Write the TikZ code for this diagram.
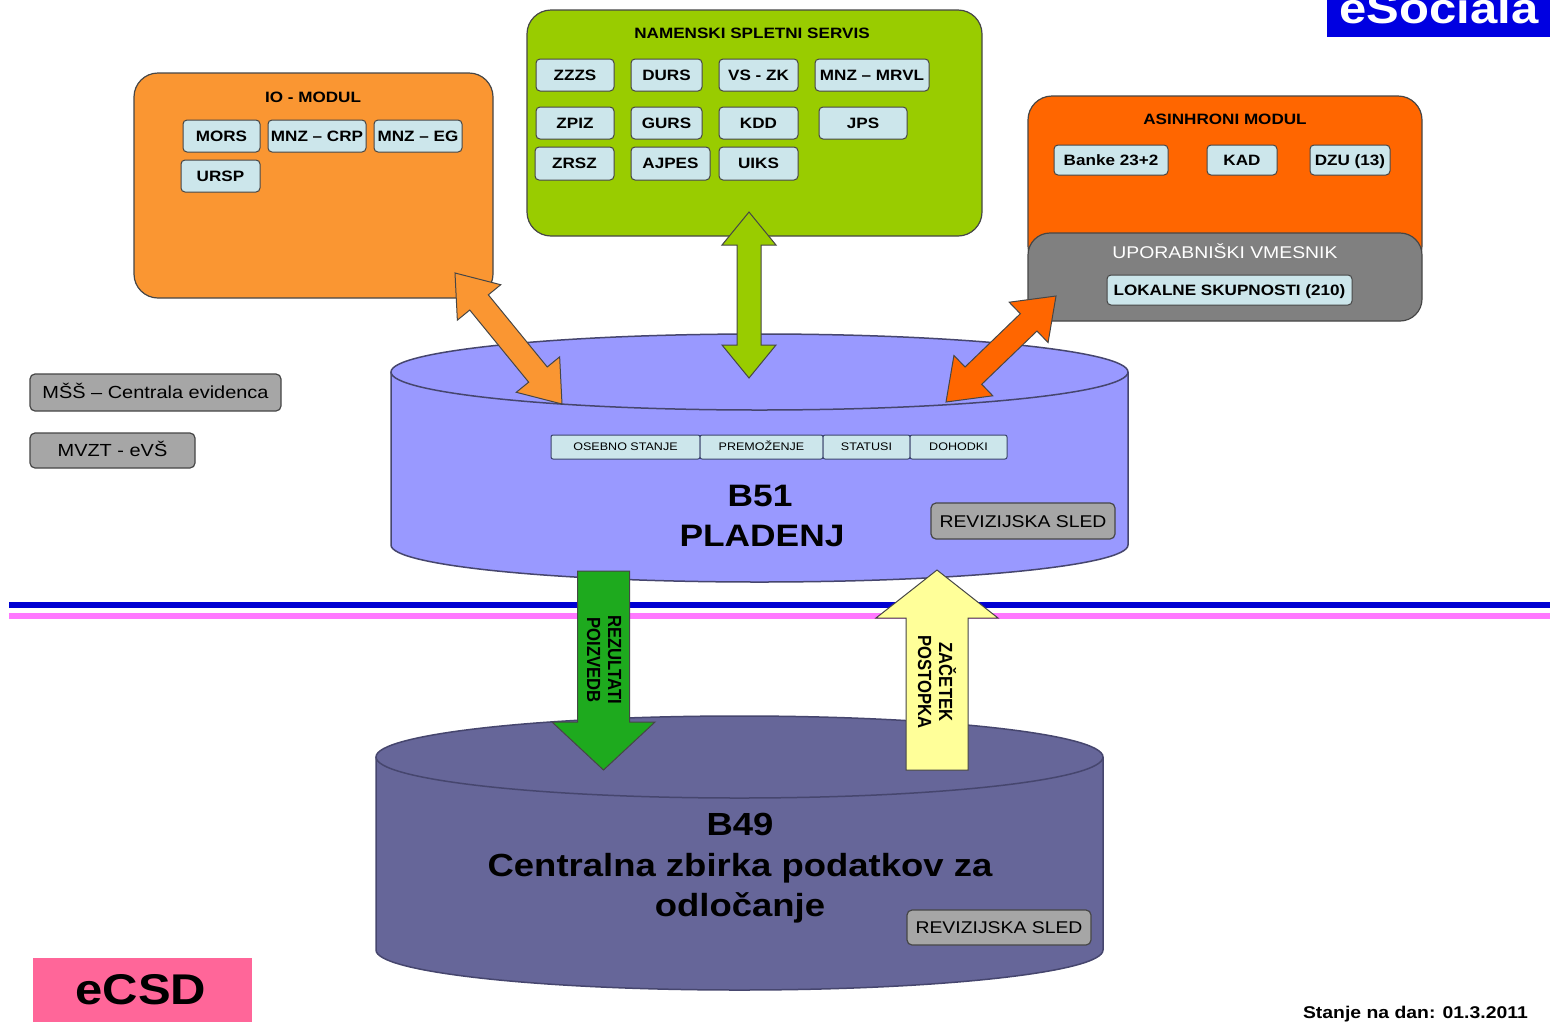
\documentclass[tikz,border=0pt]{standalone}
\usepackage{fontspec}
\setmainfont{Liberation Sans}[FakeStretch=1.14]
\newfontfamily\rotfont{Liberation Sans}[FakeStretch=0.877]
\usetikzlibrary{calc}
\definecolor{ioorange}{RGB}{250,150,50}
\definecolor{nsgreen}{RGB}{153,204,0}
\definecolor{asorange}{RGB}{255,102,0}
\definecolor{uvgray}{RGB}{128,128,128}
\definecolor{lblue}{RGB}{204,230,235}
\definecolor{bgray}{RGB}{166,166,166}
\definecolor{lav}{RGB}{153,153,255}
\definecolor{dpurple}{RGB}{102,102,153}
\definecolor{agreen}{RGB}{30,170,30}
\definecolor{ayellow}{RGB}{255,255,153}
\definecolor{esblue}{RGB}{0,0,225}
\definecolor{ecpink}{RGB}{255,102,153}
\definecolor{edge}{RGB}{70,70,70}
\definecolor{rowedge}{RGB}{60,70,110}
\definecolor{cyledge}{RGB}{70,70,110}
\definecolor{lineblue}{RGB}{0,0,210}
\definecolor{linepink}{RGB}{255,120,255}

\newcommand{\dblarrow}[6]{%
 \filldraw[#6] (#1)
 -- ($(#1)!#3!(#2)!#4!90:(#2)$)
 -- ($(#1)!#3!(#2)!#5!90:(#2)$)
 -- ($(#2)!#3!(#1)!#5!-90:(#1)$)
 -- ($(#2)!#3!(#1)!#4!-90:(#1)$)
 -- (#2)
 -- ($(#2)!#3!(#1)!#4!90:(#1)$)
 -- ($(#2)!#3!(#1)!#5!90:(#1)$)
 -- ($(#1)!#3!(#2)!#5!-90:(#2)$)
 -- ($(#1)!#3!(#2)!#4!-90:(#2)$)
 -- cycle;}
\newcommand{\blkarrow}[6]{%
 \filldraw[#6] ($(#1)!#5!90:(#2)$)
 -- ($(#2)!#3!(#1)!#5!-90:(#1)$)
 -- ($(#2)!#3!(#1)!#4!-90:(#1)$)
 -- (#2)
 -- ($(#2)!#3!(#1)!#4!90:(#1)$)
 -- ($(#2)!#3!(#1)!#5!90:(#1)$)
 -- ($(#1)!#5!-90:(#2)$)
 -- cycle;}

\begin{document}
\begin{tikzpicture}[x=1pt,y=-1pt,
 big/.style={draw=edge, line width=1.2pt, rounded corners=24pt, inner sep=0pt},
 sbox/.style={draw=edge, fill=lblue, line width=1pt, rounded corners=4pt, inner sep=0pt, minimum height=32pt, text height=10.7pt, text depth=0pt, font=\fontsize{15}{18}\selectfont\bfseries},
 ttl/.style={font=\fontsize{15}{18}\selectfont\bfseries, inner sep=0pt, text height=10.7pt, text depth=0pt},
 rbox/.style={draw=rowedge, fill=lblue, line width=1pt, rounded corners=2pt, inner sep=0pt, minimum height=24pt, text height=7.9pt, text depth=0pt, font=\fontsize{11}{13}\selectfont},
 gbox/.style={draw=edge, fill=bgray, line width=1.2pt, rounded corners=5pt, inner sep=0pt, text height=12.5pt, text depth=0pt, font=\fontsize{17.5}{20}\selectfont},
 cyl/.style={draw=cyledge, line width=1.5pt},
 dbl/.style={draw=edge, line width=1pt},
 bigtxt/.style={font=\fontsize{31}{36}\selectfont\bfseries, inner sep=0pt, anchor=base},
 rottxt/.style={font=\rotfont\fontsize{19}{21}\selectfont\bfseries, rotate=-90, align=center, inner sep=0pt}
]
\useasboundingbox (0,0) rectangle (1550,1021);
\fill[white] (0,0) rectangle (1550,1021);

% separator lines
\coordinate (lnL1) at (9,604.5); \coordinate (lnR1) at (1550,604.5);
\coordinate (lnL2) at (9,616); \coordinate (lnR2) at (1550,616);
\draw[lineblue, line width=6pt] (lnL1) -- (lnR1);
\draw[linepink, line width=5.5pt] (lnL2) -- (lnR2);

% cylinder B51
\fill[lav] (391,372) -- (391,545) arc[start angle=180,end angle=360,x radius=368.5pt,y radius=37pt] -- (1128,372) arc[start angle=0,end angle=180,x radius=368.5pt,y radius=38pt] -- cycle;
\draw[cyl] (391,372) -- (391,545) arc[start angle=180,end angle=360,x radius=368.5pt,y radius=37pt] -- (1128,372);
\draw[cyl] (759.5,372) ellipse[x radius=368.5pt,y radius=38pt];

% cylinder B49
\fill[dpurple] (376,757) -- (376,950) arc[start angle=180,end angle=360,x radius=363.5pt,y radius=40pt] -- (1103,757) arc[start angle=0,end angle=180,x radius=363.5pt,y radius=41pt] -- cycle;
\draw[cyl] (376,757) -- (376,950) arc[start angle=180,end angle=360,x radius=363.5pt,y radius=40pt] -- (1103,757);
\draw[cyl] (739.5,757) ellipse[x radius=363.5pt,y radius=41pt];

% IO modul
\node[big, fill=ioorange, minimum width=359pt, minimum height=225pt] (io) at (313.5,185.5) {};
\node[ttl] (iot) at (313,97) {IO - MODUL};
\node[sbox, minimum width=77pt] (mors) at (221.5,136) {MORS};
\node[sbox, minimum width=98pt] (crp) at (317,136) {MNZ – CRP};
\node[sbox, minimum width=88pt] (eg) at (418,136) {MNZ – EG};
\node[sbox, minimum width=79pt] (ursp) at (220.5,176) {URSP};

% Namenski spletni servis
\node[big, fill=nsgreen, minimum width=455pt, minimum height=226pt] (ns) at (754.5,123) {};
\node[ttl] (nst) at (752,33) {NAMENSKI SPLETNI SERVIS};
\node[sbox, minimum width=78pt] (zzzs) at (575,75) {ZZZS};
\node[sbox, minimum width=71pt] (durs) at (666.5,75) {DURS};
\node[sbox, minimum width=79pt] (vszk) at (758.5,75) {VS - ZK};
\node[sbox, minimum width=114pt] (mrvl) at (872,75) {MNZ – MRVL};
\node[sbox, minimum width=78pt] (zpiz) at (575,123) {ZPIZ};
\node[sbox, minimum width=71pt] (gurs) at (666.5,123) {GURS};
\node[sbox, minimum width=79pt] (kdd) at (758.5,123) {KDD};
\node[sbox, minimum width=88pt] (jps) at (863,123) {JPS};
\node[sbox, minimum width=79pt, minimum height=33pt] (zrsz) at (574.5,163.5) {ZRSZ};
\node[sbox, minimum width=79pt, minimum height=33pt] (ajpes) at (670.5,163.5) {AJPES};
\node[sbox, minimum width=79pt, minimum height=33pt] (uiks) at (758.5,163.5) {UIKS};

% Asinhroni modul
\node[big, fill=asorange, minimum width=394pt, minimum height=174pt] (as) at (1225,183) {};
\node[ttl] (ast) at (1225,119) {ASINHRONI MODUL};
\node[sbox, minimum width=114pt, minimum height=30pt] (banke) at (1111,160) {Banke 23+2};
\node[sbox, minimum width=70pt, minimum height=30pt] (kad) at (1242,160) {KAD};
\node[sbox, minimum width=80pt, minimum height=30pt] (dzu) at (1350,160) {DZU (13)};
\node[big, fill=uvgray, rounded corners=22pt, minimum width=394pt, minimum height=88pt] (uv) at (1225,277) {};
\node[inner sep=0pt, text=white, text height=12.2pt, text depth=0pt, font=\fontsize{17}{20}\selectfont] (uvt) at (1225,252) {UPORABNIŠKI VMESNIK};
\node[sbox, minimum width=245pt, minimum height=30pt] (lok) at (1229.5,290) {LOKALNE SKUPNOSTI (210)};

% left gray boxes
\node[gbox, minimum width=251pt, minimum height=37pt] (mss) at (155.5,392.5) {MŠŠ – Centrala evidenca};
\node[gbox, minimum width=165pt, minimum height=35pt] (mvzt) at (112.5,450.5) {MVZT - eVŠ};

% B51 contents
\node[rbox, minimum width=149pt] (os) at (625.5,447) {OSEBNO STANJE};
\node[rbox, minimum width=123pt] (prem) at (761.5,447) {PREMOŽENJE};
\node[rbox, minimum width=87pt] (stat) at (866.5,447) {STATUSI};
\node[rbox, minimum width=97pt] (doh) at (958.5,447) {DOHODKI};
\node[bigtxt] (b51) at (760,506) {B51};
\node[bigtxt] (plad) at (762,546) {PLADENJ};
\node[gbox, minimum width=184pt, minimum height=36pt, font=\fontsize{17}{20}\selectfont] (rev1) at (1023,521) {REVIZIJSKA SLED};

% B49 contents
\node[bigtxt, font=\fontsize{32}{38}\selectfont\bfseries] (b49) at (740,835) {B49};
\node[bigtxt, font=\fontsize{32}{38}\selectfont\bfseries] (czp) at (740,876) {Centralna zbirka podatkov za};
\node[bigtxt, font=\fontsize{32}{38}\selectfont\bfseries] (odl) at (740,916) {odločanje};
\node[gbox, minimum width=184pt, minimum height=35pt, font=\fontsize{17}{20}\selectfont] (rev2) at (999,927.5) {REVIZIJSKA SLED};

% double arrows
\coordinate (ioA) at (455,273); \coordinate (ioB) at (562,404);
\coordinate (nsA) at (749,212); \coordinate (nsB) at (749,378);
\coordinate (asA) at (946,402); \coordinate (asB) at (1056,296);
\dblarrow{ioA}{ioB}{38pt}{28pt}{12pt}{dbl, fill=ioorange}
\dblarrow{nsA}{nsB}{33pt}{27pt}{12pt}{dbl, fill=nsgreen}
\dblarrow{asA}{asB}{38pt}{28pt}{12pt}{dbl, fill=asorange}

% block arrows
\coordinate (gBase) at (603.5,571); \coordinate (gTip) at (603.5,770);
\coordinate (yBase) at (937,770); \coordinate (yTip) at (937,570);
\blkarrow{gBase}{gTip}{48pt}{51.5pt}{26pt}{dbl, fill=agreen}
\blkarrow{yBase}{yTip}{48pt}{61pt}{31pt}{dbl, fill=ayellow}
\node[rottxt] (rez) at (604,660) {REZULTATI\\POIZVEDB};
\node[rottxt] (zac) at (937,682) {ZAČETEK\\POSTOPKA};

% eSociala
\begin{scope}
\clip (1327,0) rectangle (1550,37);
\fill[esblue] (1327,0) rectangle (1550,37);
\node[anchor=base, inner sep=0pt, text=white, font=\fontsize{43}{50}\selectfont\bfseries] (esoc) at (1439,23) {eSociala};
\end{scope}

% eCSD
\node[fill=ecpink, minimum width=219pt, minimum height=70pt, inner sep=0pt] (ecsdbox) at (142.5,993) {};
\node[anchor=base, inner sep=0pt, font=\fontsize{43}{50}\selectfont\bfseries] (ecsd) at (141,1004) {eCSD};

% date
\node[anchor=base east, inner sep=0pt, font=\fontsize{17}{20}\selectfont\bfseries] (date) at (1528,1018) {Stanje na dan: 01.3.2011};
\end{tikzpicture}
\end{document}
